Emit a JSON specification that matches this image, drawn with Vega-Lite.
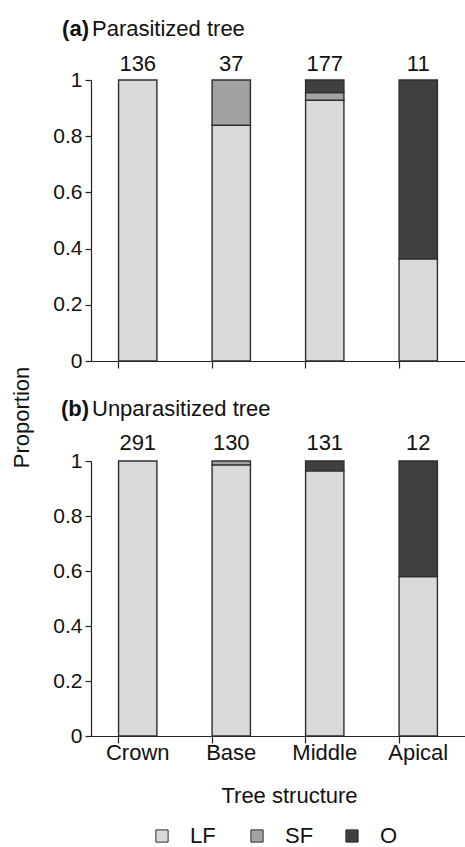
{
  "$schema": "https://vega.github.io/schema/vega-lite/v6.json",
  "padding": {"left": 10, "top": 18, "right": 0, "bottom": 0},
  "bounds": "flush",
  "spacing": 100,
  "config": {
    "view": {"stroke": null},
    "font": "Liberation Sans",
    "axis": {"grid": false, "domainColor": "#222", "tickColor": "#222", "labelColor": "#111", "titleColor": "#111", "labelFontSize": 21, "titleFontSize": 22, "titleFontWeight": "normal", "domainWidth": 1.2, "tickWidth": 1.2},
    "text": {"font": "Liberation Sans", "color": "#111"}
  },
  "data": {
    "values": [
      {"panel": "a", "cat": "Crown", "part": "LF", "ord": 1, "value": 1.0, "n": 136},
      {"panel": "a", "cat": "Base", "part": "LF", "ord": 1, "value": 0.839, "n": 37},
      {"panel": "a", "cat": "Base", "part": "SF", "ord": 2, "value": 0.161, "n": 37},
      {"panel": "a", "cat": "Middle", "part": "LF", "ord": 1, "value": 0.928, "n": 177},
      {"panel": "a", "cat": "Middle", "part": "SF", "ord": 2, "value": 0.027, "n": 177},
      {"panel": "a", "cat": "Middle", "part": "O", "ord": 3, "value": 0.045, "n": 177},
      {"panel": "a", "cat": "Apical", "part": "LF", "ord": 1, "value": 0.364, "n": 11},
      {"panel": "a", "cat": "Apical", "part": "O", "ord": 3, "value": 0.636, "n": 11},
      {"panel": "b", "cat": "Crown", "part": "LF", "ord": 1, "value": 1.0, "n": 291},
      {"panel": "b", "cat": "Base", "part": "LF", "ord": 1, "value": 0.986, "n": 130},
      {"panel": "b", "cat": "Base", "part": "SF", "ord": 2, "value": 0.014, "n": 130},
      {"panel": "b", "cat": "Middle", "part": "LF", "ord": 1, "value": 0.964, "n": 131},
      {"panel": "b", "cat": "Middle", "part": "O", "ord": 3, "value": 0.036, "n": 131},
      {"panel": "b", "cat": "Apical", "part": "LF", "ord": 1, "value": 0.58, "n": 12},
      {"panel": "b", "cat": "Apical", "part": "O", "ord": 3, "value": 0.42, "n": 12}
    ]
  },
  "vconcat": [
    {
      "width": 374,
      "height": 281,
      "transform": [{"filter": "datum.panel == 'a'"}],
      "encoding": {
        "x": {"field": "cat", "type": "nominal", "sort": ["Crown", "Base", "Middle", "Apical"],
          "scale": {"paddingInner": 0.59, "paddingOuter": 0.295},
          "axis": {"labels": false, "title": null, "bandPosition": 0, "tickSize": 7, "labelAngle": 0}}
      },
      "layer": [
        {
          "mark": {"type": "bar", "stroke": "#2e2e2e", "strokeWidth": 1.4},
          "encoding": {
            "y": {"field": "value", "type": "quantitative", "stack": "zero", "scale": {"domain": [0, 1]},
              "axis": {"values": [0, 0.2, 0.4, 0.6, 0.8, 1], "format": "~g", "tickSize": 6, "labelPadding": 3, "title": "Proportion", "titleX": -70, "titleY": 337, "titleAlign": "center", "titleBaseline": "middle", "titleAngle": 270}},
            "color": {"field": "part", "type": "nominal", "scale": {"domain": ["LF", "SF", "O"], "range": ["#d9d9d9", "#a2a2a2", "#404040"]},
              "legend": {"orient": "none", "legendX": 60, "legendY": 745, "direction": "horizontal", "title": null, "symbolType": "square", "symbolSize": 150, "symbolStrokeColor": "#333", "symbolStrokeWidth": 1, "labelFontSize": 22, "labelOffset": 17, "columnPadding": 27, "gridAlign": "all", "labelColor": "#111"}},
            "order": {"field": "ord", "type": "quantitative"}
          }
        },
        {
          "transform": [{"filter": "datum.part == 'LF'"}],
          "mark": {"type": "text", "dy": -9, "fontSize": 22, "baseline": "alphabetic"},
          "encoding": {"y": {"datum": 1}, "text": {"field": "n", "type": "quantitative"}}
        },
        {
          "transform": [{"filter": "datum.part == 'LF' && datum.cat == 'Crown'"}],
          "mark": {"type": "text", "align": "right", "dx": -48.75, "dy": -44, "fontSize": 22, "fontWeight": "bold", "baseline": "alphabetic", "text": "(a)"},
          "encoding": {"y": {"datum": 1}}
        },
        {
          "transform": [{"filter": "datum.part == 'LF' && datum.cat == 'Crown'"}],
          "mark": {"type": "text", "align": "left", "dx": -45.75, "dy": -44, "fontSize": 22, "baseline": "alphabetic", "text": "Parasitized tree"},
          "encoding": {"y": {"datum": 1}}
        }
      ]
    },
    {
      "width": 374,
      "height": 275,
      "transform": [{"filter": "datum.panel == 'b'"}],
      "encoding": {
        "x": {"field": "cat", "type": "nominal", "sort": ["Crown", "Base", "Middle", "Apical"],
          "scale": {"paddingInner": 0.59, "paddingOuter": 0.295},
          "axis": {"title": "Tree structure", "bandPosition": 0, "tickSize": 7, "labelAngle": 0, "labelFontSize": 22, "labelPadding": -1, "titlePadding": 22, "titleX": 198, "titleAlign": "center"}}
      },
      "layer": [
        {
          "mark": {"type": "bar", "stroke": "#2e2e2e", "strokeWidth": 1.4},
          "encoding": {
            "y": {"field": "value", "type": "quantitative", "stack": "zero", "scale": {"domain": [0, 1]},
              "axis": {"values": [0, 0.2, 0.4, 0.6, 0.8, 1], "format": "~g", "tickSize": 6, "labelPadding": 3, "title": null}},
            "color": {"field": "part", "type": "nominal", "scale": {"domain": ["LF", "SF", "O"], "range": ["#d9d9d9", "#a2a2a2", "#404040"]}},
            "order": {"field": "ord", "type": "quantitative"}
          }
        },
        {
          "transform": [{"filter": "datum.part == 'LF'"}],
          "mark": {"type": "text", "dy": -11, "fontSize": 22, "baseline": "alphabetic"},
          "encoding": {"y": {"datum": 1}, "text": {"field": "n", "type": "quantitative"}}
        },
        {
          "transform": [{"filter": "datum.part == 'LF' && datum.cat == 'Crown'"}],
          "mark": {"type": "text", "align": "right", "dx": -48.75, "dy": -45, "fontSize": 22, "fontWeight": "bold", "baseline": "alphabetic", "text": "(b)"},
          "encoding": {"y": {"datum": 1}}
        },
        {
          "transform": [{"filter": "datum.part == 'LF' && datum.cat == 'Crown'"}],
          "mark": {"type": "text", "align": "left", "dx": -45.75, "dy": -45, "fontSize": 22, "baseline": "alphabetic", "text": "Unparasitized tree"},
          "encoding": {"y": {"datum": 1}}
        }
      ]
    }
  ]
}
